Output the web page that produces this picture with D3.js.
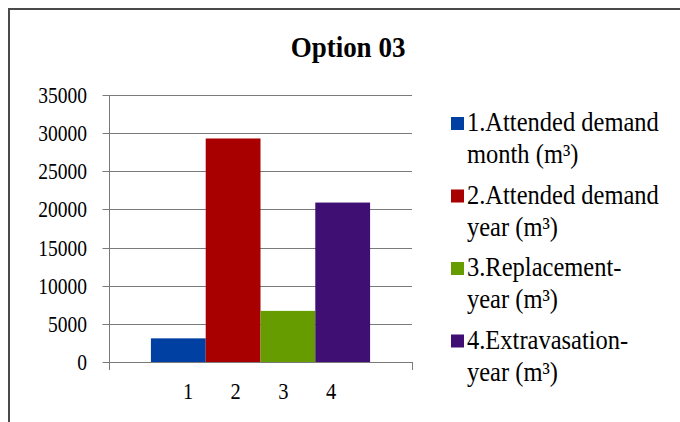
<!DOCTYPE html>
<html>
<head>
<meta charset="utf-8">
<script src="https://cdn.jsdelivr.net/npm/d3@7"></script>
<style>
  html, body { margin: 0; padding: 0; background: #fff; }
  svg { display: block; }
  text { font-family: "Liberation Serif", "Times New Roman", serif; fill: #000; }
</style>
</head>
<body>
<svg id="chart" width="680" height="422"></svg>
<script>
// ---- data ----
const title = "Option 03";
const categories = ["1", "2", "3", "4"];
const values = [3100, 29300, 6700, 20900];
const legendLines = [
  ["1.Attended demand", "month (m³)"],
  ["2.Attended demand", "year (m³)"],
  ["3.Replacement-", "year (m³)"],
  ["4.Extravasation-", "year (m³)"]
];
const colors = ["#0040A2", "#A80000", "#679C00", "#3F0F74"];
const yTicks = [0, 5000, 10000, 15000, 20000, 25000, 30000, 35000];

// ---- layout ----
const W = 680, H = 422;
const plot = { left: 109, right: 412, top: 95, bottom: 362 };

const svg = d3.select("#chart");

// frame
svg.append("rect")
  .attr("x", 9).attr("y", 9)
  .attr("width", W + 20).attr("height", H + 20)
  .attr("fill", "none").attr("stroke", "#4a4a4a").attr("stroke-width", 2);

function stretchedText(g, x, y, txt, size, anchor, weight, sy) {
  return g.append("text")
    .attr("transform", `translate(${x},${y}) scale(1,${sy})`)
    .attr("font-family", "'Liberation Serif', 'Times New Roman', serif")
    .attr("font-size", size)
    .attr("font-weight", weight || "normal")
    .attr("text-anchor", anchor || "start")
    .text(txt);
}

// title
stretchedText(svg, 348, 57, title, 27, "middle", "bold", 1.12);

// scales
const y = d3.scaleLinear().domain([0, 35000]).range([plot.bottom, plot.top]);
const x = d3.scaleBand().domain(categories)
  .range([plot.left, plot.right]).paddingInner(0).paddingOuter(0.765);

// gridlines
svg.append("g").selectAll("line").data(yTicks.filter(d => d > 0)).join("line")
  .attr("x1", plot.left).attr("x2", plot.right)
  .attr("y1", d => Math.round(y(d)) + 0.5).attr("y2", d => Math.round(y(d)) + 0.5)
  .attr("stroke", "#7a7a7a").attr("stroke-width", 1);

// bars
svg.append("g").selectAll("rect").data(values).join("rect")
  .attr("x", (d, i) => x(categories[i]))
  .attr("width", x.bandwidth())
  .attr("y", d => y(d))
  .attr("height", d => y(0) - y(d))
  .attr("fill", (d, i) => colors[i]);

// y axis
const yAxis = d3.axisLeft(y).tickValues(yTicks).tickSize(7).tickFormat(d3.format("d"));
const yg = svg.append("g").attr("transform", `translate(${plot.left + 0.5},0)`).call(yAxis);
yg.select(".domain").attr("stroke", "#7a7a7a").attr("d", `M0,${plot.top}V${plot.bottom + 8}`);
yg.selectAll(".tick line").attr("stroke", "#7a7a7a");
yg.selectAll(".tick").attr("transform", d => `translate(0,${Math.round(y(d)) + 0.5})`);
yg.selectAll(".tick text").remove();
yTicks.forEach(t => {
  stretchedText(svg, 87, Math.round(y(t)) + 7.5, d3.format("d")(t), 19.5, "end", "normal", 1.15);
});

// x axis baseline + end ticks
svg.append("line")
  .attr("x1", plot.left).attr("x2", plot.right)
  .attr("y1", Math.round(y(0)) + 0.5).attr("y2", Math.round(y(0)) + 0.5)
  .attr("stroke", "#7a7a7a");
svg.append("line")
  .attr("x1", plot.right + 0.5).attr("x2", plot.right + 0.5)
  .attr("y1", Math.round(y(0))).attr("y2", Math.round(y(0)) + 8)
  .attr("stroke", "#7a7a7a");

// category labels
const cx = (plot.left + plot.right) / 2 - 1;
const xl = d3.scalePoint().domain(categories).range([cx - 71.5, cx + 71.5]);
categories.forEach(c => stretchedText(svg, xl(c), 399, c, 20.5, "middle", "normal", 1.12));

// legend
const lg = svg.append("g");
const entryStep = 72.5, lineStep = 32;
legendLines.forEach((lines, i) => {
  const by = 131 + i * entryStep;
  lg.append("rect")
    .attr("x", 451).attr("y", by - 14).attr("width", 13).attr("height", 13)
    .attr("fill", colors[i]);
  lines.forEach((ln, j) => {
    stretchedText(lg, 467, by + j * lineStep, ln, 24.5, "start", "normal", 1.1);
  });
});
</script>
</body>
</html>
